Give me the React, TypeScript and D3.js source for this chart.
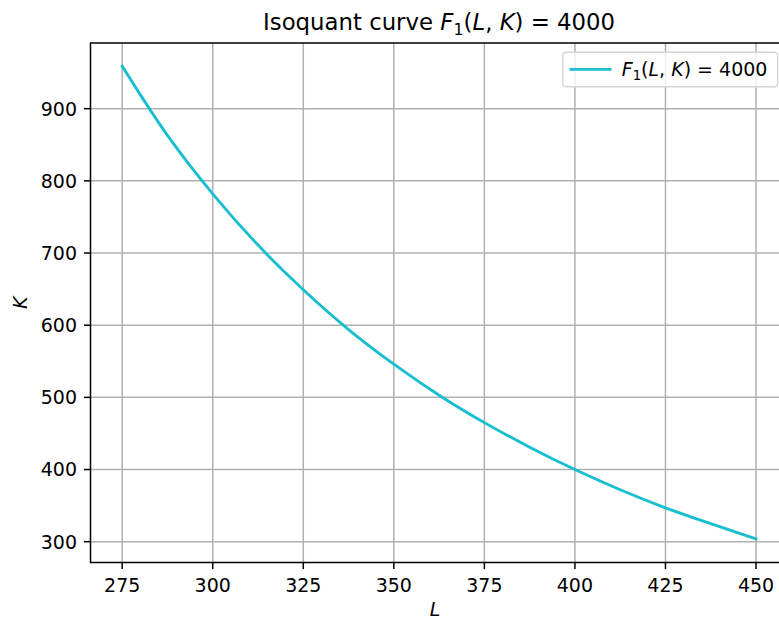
import React from 'react'
import * as d3 from 'd3'

// values
const laborL = [275, 287.5, 300, 312.5, 325, 337.5, 350, 362.5, 375, 387.5, 400, 412.5, 425, 437.5, 450]
const capitalK = [959, 863, 782, 711, 649, 594, 546, 503, 465, 431, 400, 372, 347, 325, 304]
const xTicks = [275, 300, 325, 350, 375, 400, 425, 450]
const yTicks = [300, 400, 500, 600, 700, 800, 900]

const W = 779
const H = 619
const left = 90.5
const top = 43
const right = 787.7
const bottom = 562.5
const lineColor = '#17becf'
const font = 'DejaVu Sans, sans-serif'
const fs = 19

const x = d3.scaleLinear().domain([266.25, 458.75]).range([left, right])
const y = d3.scaleLinear().domain([271.2, 991]).range([bottom, top])

const points: [number, number][] = laborL.map((l, i) => [l, capitalK[i]])

const line = d3.line<[number, number]>()
  .x(d => x(d[0]))
  .y(d => y(d[1]))
  .curve(d3.curveCatmullRom)

// F_1(L, K) = 4000 in a mathtext-like way
const Formula = ({ size }: { size: number }) => (
  <>
    <tspan fontStyle='italic'>F</tspan>
    <tspan fontSize={size * 0.7} dy={size * 0.2}>1</tspan>
    <tspan dy={-size * 0.2}>(</tspan>
    <tspan fontStyle='italic'>L</tspan>
    <tspan>, </tspan>
    <tspan fontStyle='italic'>K</tspan>
    <tspan>) = 4000</tspan>
  </>
)

export default function App () {
  return (
    <svg
      width={W}
      height={H}
      viewBox={`0 0 ${W} ${H}`}
      style={{ position: 'absolute', left: 0, top: 0, background: '#fff' }}
      fontFamily={font}
    >
      <rect width={W} height={H} fill='#fff' />

      {/* grid */}
      {xTicks.map(t => (
        <line key={'gx' + t} x1={x(t)} x2={x(t)} y1={top} y2={bottom} stroke='#b0b0b0' strokeWidth={1.5} />
      ))}
      {yTicks.map(t => (
        <line key={'gy' + t} x1={left} x2={right} y1={y(t)} y2={y(t)} stroke='#b0b0b0' strokeWidth={1.5} />
      ))}

      <path d={line(points) || ''} fill='none' stroke={lineColor} strokeWidth={2.85} strokeLinecap='square' />

      {/* spines */}
      <rect x={left} y={top} width={right - left} height={bottom - top} fill='none' stroke='#000' strokeWidth={1.5} />

      {/* x axis */}
      {xTicks.map(t => (
        <g key={'tx' + t}>
          <line x1={x(t)} x2={x(t)} y1={bottom} y2={bottom + 6.6} stroke='#000' strokeWidth={1.5} />
          <text x={x(t)} y={591.5} textAnchor='middle' fontSize={fs}>{t}</text>
        </g>
      ))}
      <text x={(left + right) / 2 - 4} y={615.5} textAnchor='middle' fontSize={fs} fontStyle='italic'>L</text>

      {/* y axis */}
      {yTicks.map(t => (
        <g key={'ty' + t}>
          <line x1={left - 6.6} x2={left} y1={y(t)} y2={y(t)} stroke='#000' strokeWidth={1.5} />
          <text x={77} y={y(t)} dy='0.36em' textAnchor='end' fontSize={fs}>{t}</text>
        </g>
      ))}
      <text
        transform={`translate(26.5,${(top + bottom) / 2}) rotate(-90)`}
        textAnchor='middle'
        fontSize={fs}
        fontStyle='italic'
      >K
      </text>

      {/* title */}
      <text x={(left + right) / 2} y={30} textAnchor='middle' fontSize={22.8}>
        <tspan>Isoquant curve </tspan>
        <Formula size={22.8} />
      </text>

      {/* legend */}
      <rect x={562.7} y={52.3} width={215} height={34.4} rx={3.5} fill='#fff' fillOpacity={0.8} stroke='#d6d6d6' strokeWidth={1.5} />
      <line x1={569.5} x2={611.5} y1={69.3} y2={69.3} stroke={lineColor} strokeWidth={2.85} />
      <text x={621.7} y={76} fontSize={fs}>
        <Formula size={fs} />
      </text>
    </svg>
  )
}
